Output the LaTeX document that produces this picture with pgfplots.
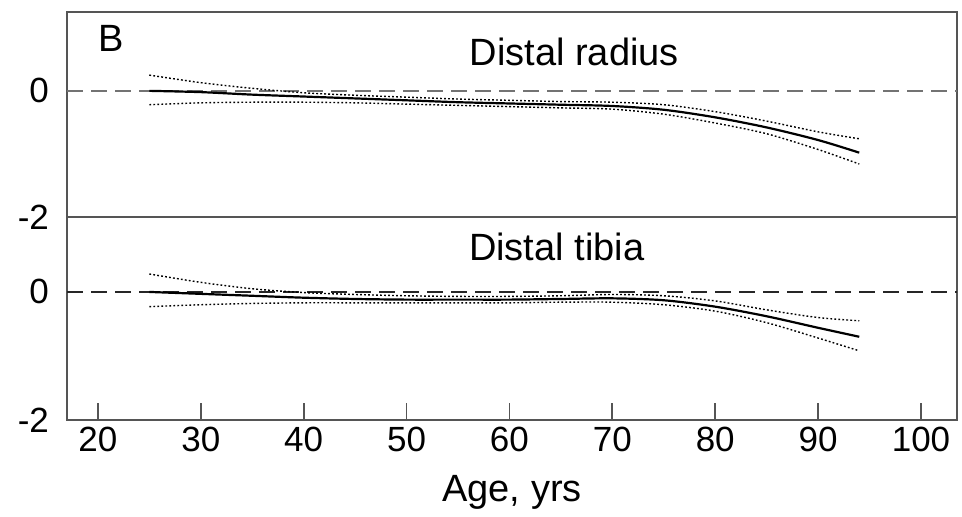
\documentclass[border=0pt]{standalone}
\usepackage{pgfplots}
\pgfplotsset{compat=1.18}
\usepackage{fontspec}
\setmainfont{Liberation Sans}
\definecolor{frame}{HTML}{555555}
\begin{document}
\begin{tikzpicture}
\pgfplotsset{
  panel/.style={
    scale only axis, width=445pt,
    xmin=17, xmax=103.5, ymin=-2,
    axis line style={frame, line width=0.9pt},
    ytick={-2,0}, yticklabels={-2,0},
    ytick style={draw=none},
    yticklabel style={font=\fontsize{17.5}{20}\selectfont, xshift=-5.5pt},
    /pgf/number format/assume math mode=true,
    clip=false,
  },
  meanline/.style={black, line width=1.1pt, smooth},
  ciline/.style={black, line width=0.7pt, dash pattern=on 0.9pt off 1.1pt, smooth},
}
% bottom panel: distal tibia
\begin{axis}[panel, name=bot, at={(0,0)}, anchor=south west,
  height=101.5pt, ymax=1.17,
  xtick={20,30,...,100}, xtick pos=left, tick align=inside,
  major tick length=8.5pt,
  xtick style={frame, line width=0.9pt},
  xticklabel style={font=\fontsize{17.5}{20}\selectfont},
  xlabel={Age, yrs},
  xlabel style={font=\fontsize{19}{22}\selectfont, at={(axis description cs:0.5,0)}, anchor=center, yshift=-36pt},
]
\addplot[black!85, line width=1pt, dash pattern=on 8pt off 4pt] coordinates {(17,0) (103.5,0)};
\addplot[meanline] coordinates {
(25,0.0) (30,-0.03) (35,-0.06) (40,-0.09) (45,-0.11) (50,-0.12) (55,-0.12) (60,-0.12)
(65,-0.11) (70,-0.10) (75,-0.13) (80,-0.23) (85,-0.38) (90,-0.56) (94,-0.70)};
\addplot[ciline] coordinates {
(25,0.28) (30,0.15) (35,0.05) (40,-0.01) (45,-0.04) (50,-0.06) (55,-0.07) (60,-0.07)
(65,-0.06) (70,-0.04) (75,-0.06) (80,-0.14) (85,-0.28) (90,-0.40) (94,-0.45)};
\addplot[ciline] coordinates {
(25,-0.23) (30,-0.20) (35,-0.18) (40,-0.17) (45,-0.17) (50,-0.17) (55,-0.17) (60,-0.17)
(65,-0.16) (70,-0.16) (75,-0.20) (80,-0.30) (85,-0.48) (90,-0.72) (94,-0.92)};
\node[font=\fontsize{19}{22}\selectfont] at (axis cs:64.6,0.70) {Distal tibia};
\end{axis}
% top panel: distal radius
\begin{axis}[panel, name=top, at={(0,101.5pt)}, anchor=south west,
  height=102.5pt, ymax=1.25,
  xtick=\empty,
]
\addplot[black!55, line width=1pt, dash pattern=on 8pt off 4pt] coordinates {(17,0) (103.5,0)};
\addplot[meanline] coordinates {
(25,0.0) (30,-0.02) (35,-0.06) (40,-0.09) (45,-0.12) (50,-0.15) (55,-0.18) (60,-0.20)
(65,-0.22) (70,-0.24) (75,-0.30) (80,-0.42) (85,-0.58) (90,-0.78) (94,-0.98)};
\addplot[ciline] coordinates {
(25,0.25) (30,0.13) (35,0.04) (40,-0.03) (45,-0.07) (50,-0.10) (55,-0.13) (60,-0.15)
(65,-0.17) (70,-0.18) (75,-0.22) (80,-0.33) (85,-0.48) (90,-0.65) (94,-0.76)};
\addplot[ciline] coordinates {
(25,-0.22) (30,-0.19) (35,-0.18) (40,-0.18) (45,-0.19) (50,-0.21) (55,-0.23) (60,-0.25)
(65,-0.27) (70,-0.29) (75,-0.37) (80,-0.51) (85,-0.68) (90,-0.93) (94,-1.16)};
\node[font=\fontsize{19}{22}\selectfont] at (axis cs:66.3,0.62) {Distal radius};
\node[font=\fontsize{19}{22}\selectfont] at (axis cs:21.3,0.83) {B};
\end{axis}
\pgfresetboundingbox
\path[use as bounding box] (-33.5pt,-48pt) rectangle (447.5pt,210pt);
\end{tikzpicture}
\end{document}
